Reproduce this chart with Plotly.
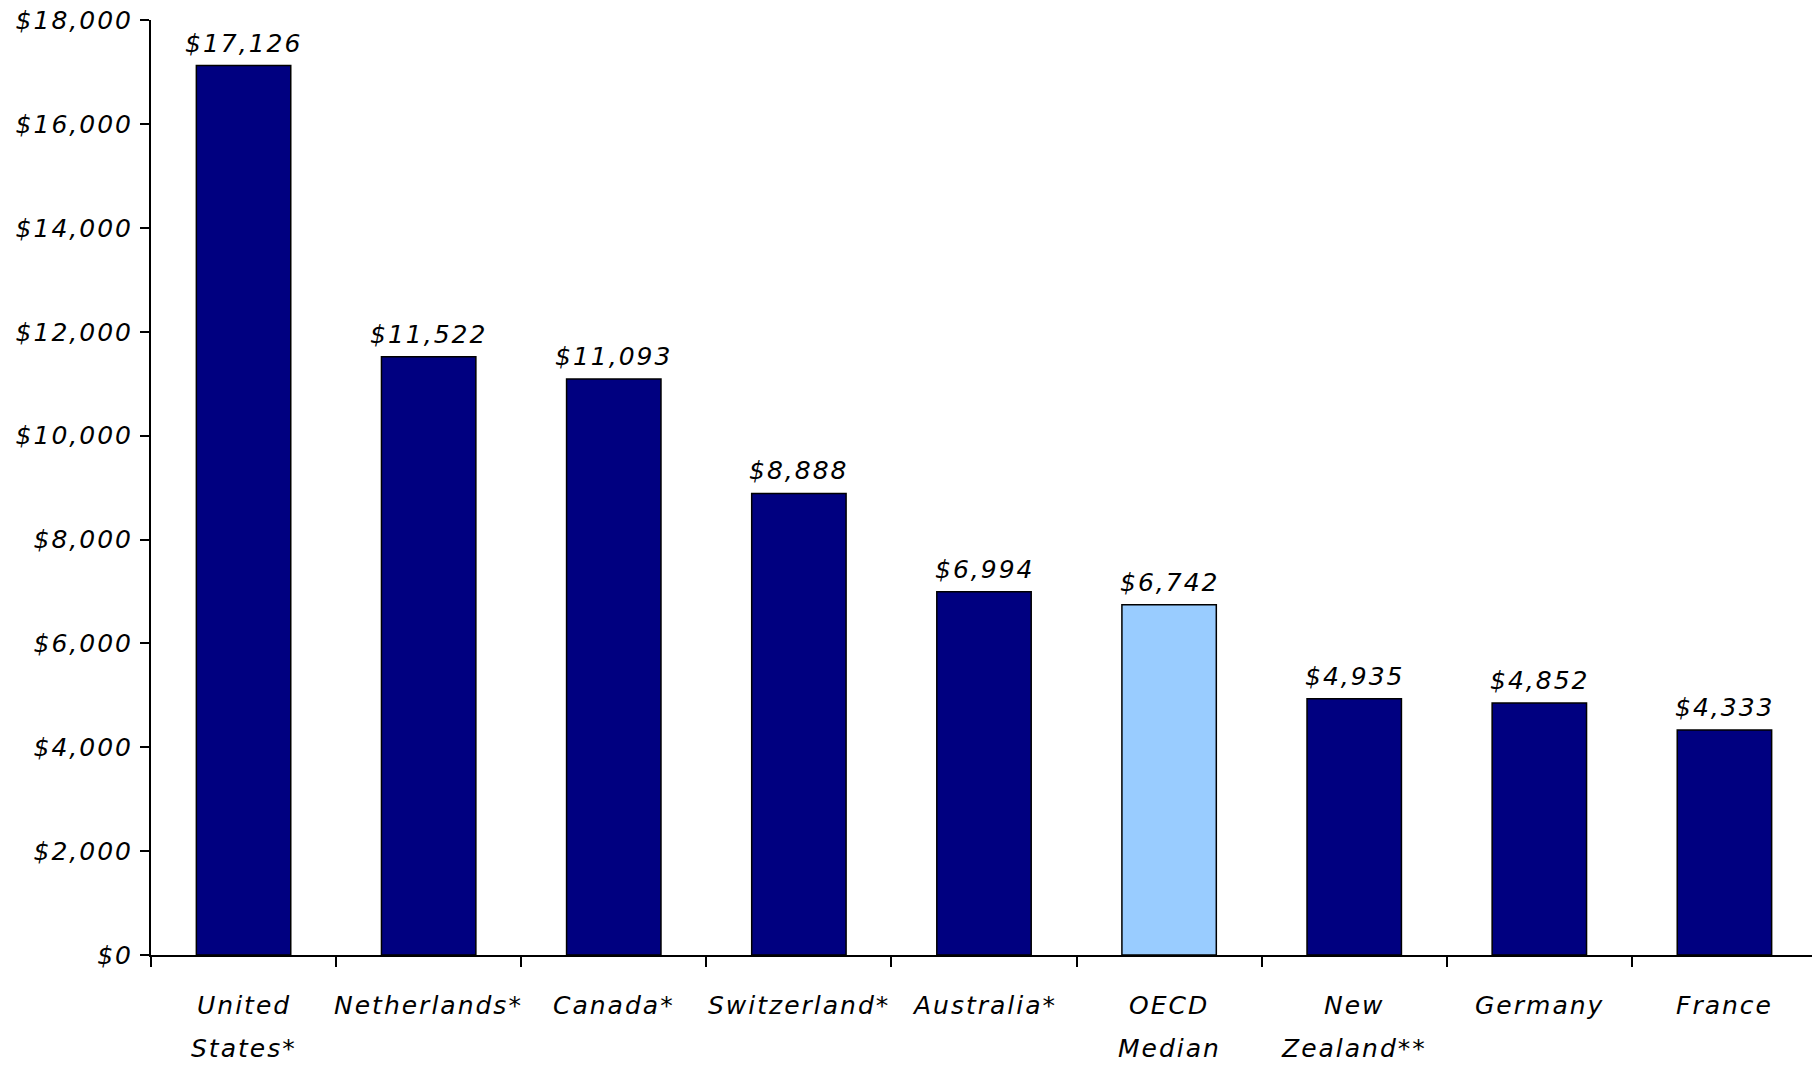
import plotly.graph_objects as go

categories = ["United States*", "Netherlands*", "Canada*", "Switzerland*", "Australia*",
              "OECD Median", "New Zealand**", "Germany", "France"]
label_line1 = ["United", "Netherlands*", "Canada*", "Switzerland*", "Australia*",
               "OECD", "New", "Germany", "France"]
label_line2 = ["States*", "", "", "", "", "Median", "Zealand**", "", ""]
values = [17126, 11522, 11093, 8888, 6994, 6742, 4935, 4852, 4333]
value_labels = ["$17,126", "$11,522", "$11,093", "$8,888", "$6,994",
                "$6,742", "$4,935", "$4,852", "$4,333"]
tick_vals = [0, 2000, 4000, 6000, 8000, 10000, 12000, 14000, 16000, 18000]
tick_text = ["$0", "$2,000", "$4,000", "$6,000", "$8,000", "$10,000",
             "$12,000", "$14,000", "$16,000", "$18,000"]

NAVY = "#000080"
LIGHT = "#99CCFF"
colors = [LIGHT if c == "OECD Median" else NAVY for c in categories]

FONT = "DejaVu Sans"
FS = 25

def fmt(t):
    return f"<span style='letter-spacing:2px'><i>{t}</i></span>"

# page body has an 8px margin; figure sized so it fits the 1820x1070 window
W, H = 1812, 1054
OFF = 8
L, R, T, B = 143, 3, 12, 107
PW, PH = W - L - R, H - T - B
PLOT_BOTTOM_PAGE = OFF + H - B

def px_to_paper_y(py):
    return (PLOT_BOTTOM_PAGE - py) / PH

fig = go.Figure()
fig.add_trace(go.Bar(
    x=categories, y=values,
    marker=dict(color=colors, line=dict(color="black", width=1.5)),
    hoverinfo="x+y",
))

annotations = []
for c, v, t in zip(categories, values, value_labels):
    annotations.append(dict(x=c, y=v, xref="x", yref="y", text=fmt(t),
                            showarrow=False, yanchor="bottom", yshift=6,
                            font=dict(family=FONT, size=FS, color="black")))
for c, l1, l2 in zip(categories, label_line1, label_line2):
    annotations.append(dict(x=c, y=px_to_paper_y(1006), xref="x", yref="paper",
                            text=fmt(l1), showarrow=False, yanchor="middle",
                            font=dict(family=FONT, size=FS, color="black")))
    if l2:
        annotations.append(dict(x=c, y=px_to_paper_y(1048), xref="x", yref="paper",
                                text=fmt(l2), showarrow=False, yanchor="middle",
                                font=dict(family=FONT, size=FS, color="black")))

fig.update_layout(
    width=W, height=H,
    margin=dict(l=L, r=R, t=T, b=B, autoexpand=False),
    plot_bgcolor="white", paper_bgcolor="white",
    bargap=0.49,
    showlegend=False,
    annotations=annotations,
    font=dict(family=FONT, size=FS, color="black"),
)
fig.update_xaxes(
    type="category", showticklabels=False, tickson="boundaries",
    ticks="outside", ticklen=10, tickwidth=2, tickcolor="black",
    showline=True, linecolor="black", linewidth=2, showgrid=False,
    zeroline=False, automargin=False,
)
fig.update_yaxes(
    range=[0, 18004], tickvals=tick_vals, ticktext=[fmt(t) for t in tick_text],
    ticks="outside", ticklen=9, tickwidth=2, tickcolor="black",
    showline=True, linecolor="black", linewidth=2, showgrid=False, zeroline=False,
    tickfont=dict(family=FONT, size=FS, color="black"),
    ticklabelstandoff=2, ticklabeloverflow="allow", automargin=False,
)

fig.write_html("out.html")
